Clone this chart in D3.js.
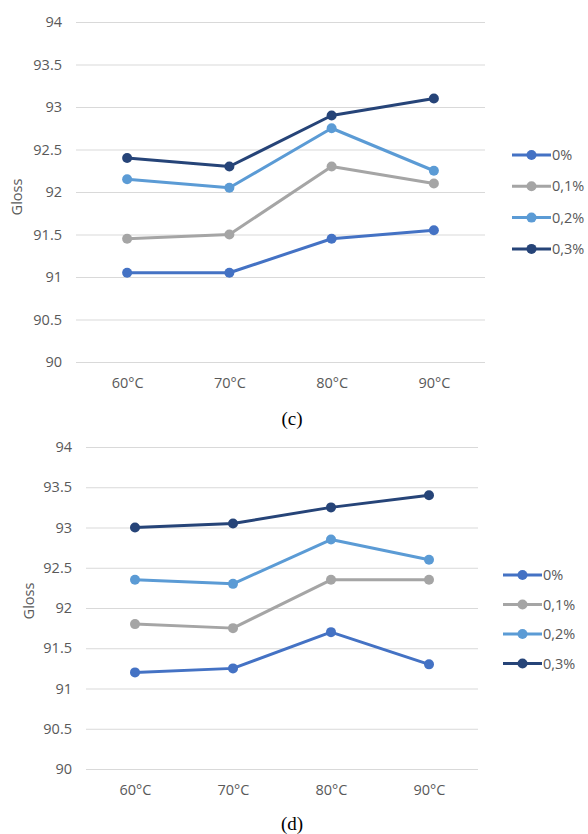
<!DOCTYPE html>
<html>
<head>
<meta charset="utf-8">
<script src="https://cdn.jsdelivr.net/npm/d3@7"></script>
<style>
  html, body { margin: 0; padding: 0; background: #fff; }
  svg { display: block; }
</style>
</head>
<body>
<svg id="chart" width="588" height="834"></svg>
<script>
// Curing temperature categories and additive content series
const categories = ["60°C", "70°C", "80°C", "90°C"];
const seriesNames = ["0%", "0,1%", "0,2%", "0,3%"];
const seriesColors = ["#4472C4", "#A5A5A5", "#5B9BD5", "#264478"];
const yTicks = [90, 90.5, 91, 91.5, 92, 92.5, 93, 93.5, 94];

// Panel (c) gloss values
const glossC_0   = [91.05, 91.05, 91.45, 91.55];
const glossC_01  = [91.45, 91.5, 92.3, 92.1];
const glossC_02  = [92.15, 92.05, 92.75, 92.25];
const glossC_03  = [92.4, 92.3, 92.9, 93.1];

// Panel (d) gloss values
const glossD_0   = [91.2, 91.25, 91.7, 91.3];
const glossD_01  = [91.8, 91.75, 92.35, 92.35];
const glossD_02  = [92.35, 92.3, 92.85, 92.6];
const glossD_03  = [93.0, 93.05, 93.25, 93.4];

const panels = [
  {
    caption: "(c)",
    series: [glossC_0, glossC_01, glossC_02, glossC_03],
    left: 76, right: 485, top: 22, bottom: 362,
    labelGap: 14, xLabelY: 383,
    titleX: 17, titleY: 197,
    legendX: 512, legendY: 155, legendStep: 31.3,
    captionX: 292, captionY: 425
  },
  {
    caption: "(d)",
    series: [glossD_0, glossD_01, glossD_02, glossD_03],
    left: 86, right: 478, top: 447, bottom: 769,
    labelGap: 14, xLabelY: 790,
    titleX: 29, titleY: 601,
    legendX: 503, legendY: 575, legendStep: 29.5,
    captionX: 292, captionY: 830
  }
];

const svg = d3.select("#chart");
const textColor = "#595959";
const font = "'Open Sans', 'Noto Sans', sans-serif";
const fontSize = "14.5px";

panels.forEach(p => {
  const g = svg.append("g");

  const x = d3.scalePoint().domain(categories).range([p.left, p.right]).padding(0.5);
  const y = d3.scaleLinear().domain([90, 94]).range([p.bottom, p.top]);

  // Horizontal gridlines with value labels
  const yAxis = d3.axisLeft(y)
    .tickValues(yTicks)
    .tickSize(-(p.right - p.left))
    .tickPadding(p.labelGap)
    .tickFormat(d => String(d));
  const ya = g.append("g")
    .attr("transform", `translate(${p.left},0)`)
    .call(yAxis);
  ya.select(".domain").remove();
  ya.selectAll(".tick line").attr("stroke", "#d9d9d9").attr("stroke-width", 1);
  ya.selectAll(".tick text")
    .attr("fill", textColor)
    .style("font-family", font)
    .style("font-size", fontSize);

  // Category labels
  const xAxis = d3.axisBottom(x).tickSize(0).tickPadding(0);
  const xa = g.append("g")
    .attr("transform", `translate(0,${p.xLabelY})`)
    .call(xAxis);
  xa.select(".domain").remove();
  xa.selectAll(".tick text")
    .attr("y", 0)
    .attr("dy", "0.35em")
    .attr("fill", textColor)
    .style("font-family", font)
    .style("font-size", fontSize);

  // Axis title
  g.append("text")
    .attr("transform", `translate(${p.titleX},${p.titleY}) rotate(-90)`)
    .attr("text-anchor", "middle")
    .attr("dy", "0.35em")
    .attr("fill", textColor)
    .style("font-family", font)
    .style("font-size", fontSize)
    .text("Gloss");

  // Series lines and markers
  const line = d3.line()
    .x((d, i) => x(categories[i]))
    .y(d => y(d));

  p.series.forEach((vals, si) => {
    g.append("path")
      .datum(vals)
      .attr("fill", "none")
      .attr("stroke", seriesColors[si])
      .attr("stroke-width", 3)
      .attr("stroke-linejoin", "round")
      .attr("d", line);
    g.selectAll(null)
      .data(vals)
      .enter()
      .append("circle")
      .attr("cx", (d, i) => x(categories[i]))
      .attr("cy", d => y(d))
      .attr("r", 5)
      .attr("fill", seriesColors[si]);
  });

  // Legend
  seriesNames.forEach((name, si) => {
    const ly = p.legendY + si * p.legendStep;
    const lg = g.append("g");
    lg.append("line")
      .attr("x1", p.legendX).attr("x2", p.legendX + 39)
      .attr("y1", ly).attr("y2", ly)
      .attr("stroke", seriesColors[si])
      .attr("stroke-width", 3);
    lg.append("circle")
      .attr("cx", p.legendX + 19.5).attr("cy", ly)
      .attr("r", 5)
      .attr("fill", seriesColors[si]);
    lg.append("text")
      .attr("x", p.legendX + 40)
      .attr("y", ly)
      .attr("dy", "0.35em")
      .attr("fill", textColor)
      .style("font-family", font)
      .style("font-size", fontSize)
      .text(name);
  });

  // Panel caption
  g.append("text")
    .attr("x", p.captionX)
    .attr("y", p.captionY)
    .attr("text-anchor", "middle")
    .attr("fill", "#000")
    .style("font-family", "'Liberation Serif', 'Times New Roman', serif")
    .style("font-size", "19px")
    .text(p.caption);
});
</script>
</body>
</html>
